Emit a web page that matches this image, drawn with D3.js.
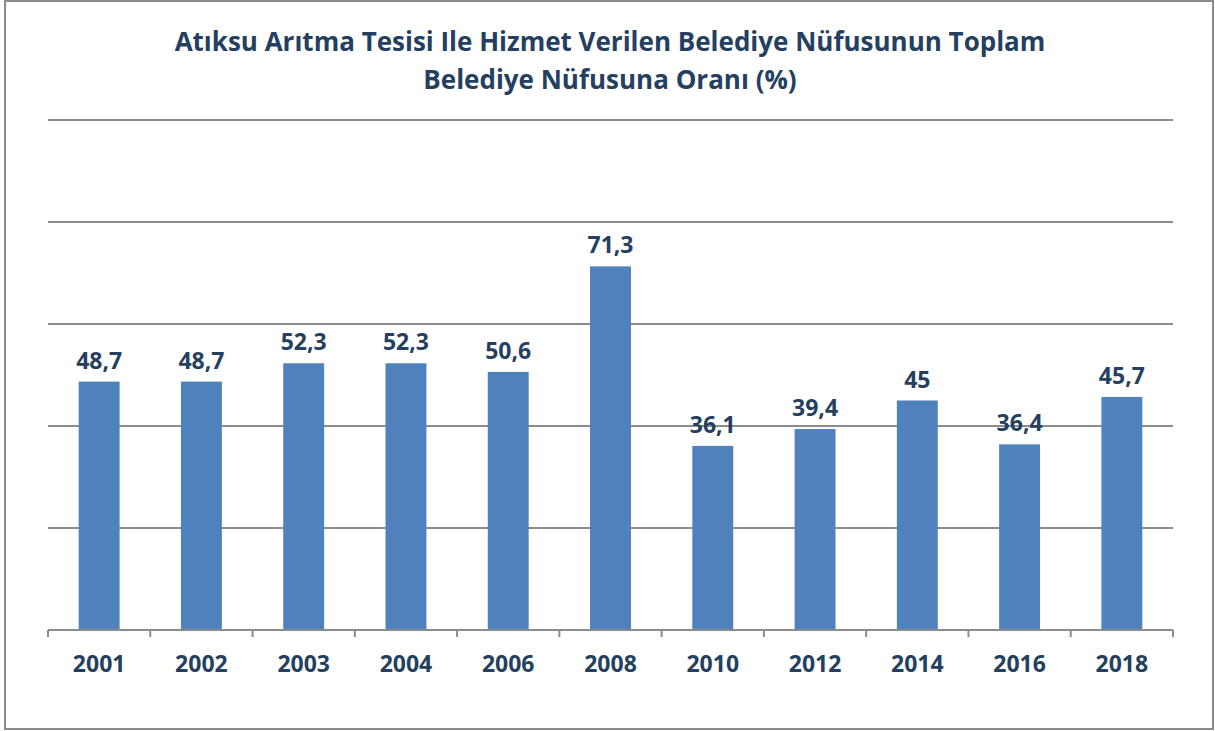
<!DOCTYPE html>
<html>
<head>
<meta charset="utf-8">
<script src="https://cdn.jsdelivr.net/npm/d3@7"></script>
<style>
  body { margin: 0; background: #fff; }
  svg { display: block; font-family: 'Open Sans', Lato, sans-serif; }
</style>
</head>
<body>
<svg width="1215" height="731"></svg>
<script>
// Chart data
const years = ['2001', '2002', '2003', '2004', '2006', '2008', '2010', '2012', '2014', '2016', '2018'];
const values = [48.7, 48.7, 52.3, 52.3, 50.6, 71.3, 36.1, 39.4, 45, 36.4, 45.7];
const yTicks = [0, 20, 40, 60, 80, 100];
const titleLines = [
  'Atıksu Arıtma Tesisi Ile Hizmet Verilen Belediye Nüfusunun Toplam',
  'Belediye Nüfusuna Oranı (%)',
];

const svg = d3.select('svg');
const textColor = '#243F60';
const plotLeft = 48;
const plotRight = 1173;
const plotTop = 120;
const plotBottom = 630;

// Outer border
svg.append('rect')
  .attr('x', 5)
  .attr('y', 1)
  .attr('width', 1208)
  .attr('height', 728)
  .attr('fill', 'none')
  .attr('stroke', '#8c8c8c')
  .attr('stroke-width', 2);

// Title
svg.append('g')
  .selectAll('text')
  .data(titleLines)
  .enter()
  .append('text')
  .attr('x', 610)
  .attr('y', (d, i) => 51 + i * 38)
  .attr('text-anchor', 'middle')
  .style('font-size', '26px')
  .style('font-weight', 'bold')
  .attr('fill', textColor)
  .text((d) => d);

// Scales
const xScale = d3.scaleBand()
  .domain(years)
  .range([plotLeft, plotRight])
  .paddingInner(0.6)
  .paddingOuter(0.3);

const yScale = d3.scaleLinear()
  .domain([0, 100])
  .range([plotBottom, plotTop]);

// Gridlines
svg.append('g')
  .selectAll('line')
  .data(yTicks.slice(1))
  .enter()
  .append('line')
  .attr('x1', plotLeft)
  .attr('x2', plotRight)
  .attr('y1', (d) => yScale(d))
  .attr('y2', (d) => yScale(d))
  .attr('stroke', '#8c8c8c')
  .attr('stroke-width', 2);

// Bars
svg.append('g')
  .selectAll('rect')
  .data(values)
  .enter()
  .append('rect')
  .attr('x', (d, i) => xScale(years[i]))
  .attr('y', (d) => yScale(d))
  .attr('width', xScale.bandwidth())
  .attr('height', (d) => yScale(0) - yScale(d))
  .attr('fill', '#4F81BD');

// Data labels
svg.append('g')
  .selectAll('text')
  .data(values)
  .enter()
  .append('text')
  .attr('x', (d, i) => xScale(years[i]) + xScale.bandwidth() / 2)
  .attr('y', (d) => yScale(d) - 13)
  .attr('text-anchor', 'middle')
  .style('font-size', '23px')
  .style('font-weight', 'bold')
  .attr('fill', textColor)
  .text((d) => String(d).replace('.', ','));

// X axis: baseline with ticks at band boundaries
const step = (plotRight - plotLeft) / years.length;
const axis = svg.append('g');
axis.append('line')
  .attr('x1', plotLeft)
  .attr('x2', plotRight)
  .attr('y1', plotBottom)
  .attr('y2', plotBottom)
  .attr('stroke', '#8c8c8c')
  .attr('stroke-width', 2);

axis.selectAll('.tick')
  .data(d3.range(years.length + 1))
  .enter()
  .append('line')
  .attr('class', 'tick')
  .attr('x1', (d) => plotLeft + d * step)
  .attr('x2', (d) => plotLeft + d * step)
  .attr('y1', plotBottom)
  .attr('y2', plotBottom + 7)
  .attr('stroke', '#8c8c8c')
  .attr('stroke-width', 2);

axis.selectAll('.label')
  .data(years)
  .enter()
  .append('text')
  .attr('class', 'label')
  .attr('x', (d) => xScale(d) + xScale.bandwidth() / 2)
  .attr('y', 672)
  .attr('text-anchor', 'middle')
  .style('font-size', '23px')
  .style('font-weight', 'bold')
  .attr('fill', textColor)
  .text((d) => d);
</script>
</body>
</html>
